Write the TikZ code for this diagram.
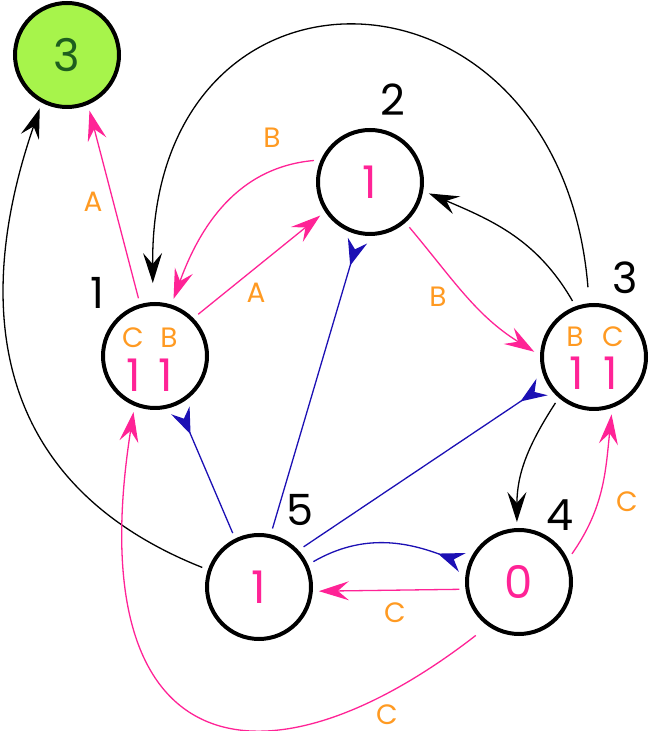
\documentclass[tikz,border=0pt]{standalone}
\usepackage{fontspec}
\setmainfont{Poppins}
\usetikzlibrary{arrows.meta}
\definecolor{pk}{HTML}{FF2396}
\definecolor{orng}{HTML}{FF9A22}
\definecolor{bl}{HTML}{1C10B4}
\definecolor{gfill}{HTML}{A7F44B}
\definecolor{gtext}{HTML}{1E5E1E}
\begin{document}
\begin{tikzpicture}[x=1pt,y=1pt,
  vtx/.style={circle,draw=black,line width=4pt,minimum size=104pt,inner sep=0pt,outer sep=8pt,font=\fontsize{45}{45}\selectfont,text=pk},
  inner/.style={font=\fontsize{45}{45}\selectfont,text=pk,inner sep=0pt},
  small/.style={font=\fontsize{28}{28}\selectfont,text=orng,inner sep=0pt},
  num/.style={font=\fontsize{43}{43}\selectfont,text=black,inner sep=0pt},
  conn/.style={line width=1.3pt},
  tipA/.style={-{Stealth[length=30pt,width=19pt,inset=11pt]}},
  tipB/.style={-{Stealth[reversed,length=26pt,width=20pt,inset=9pt]}},
  blk/.style={conn,draw=black,tipA},
  pnk/.style={conn,draw=pk,tipA},
  blu/.style={conn,draw=bl,tipB}]
\useasboundingbox (0,0) rectangle (650,731);
% nodes
\node[vtx,fill=gfill,text=gtext] (G) at (67,676) {3};
\node[vtx] (N1) at (155,375) {};
\node[vtx] (N2) at (370,549) {1};
\node[vtx] (N3) at (594,374) {};
\node[vtx] (N4) at (519,149) {0};
\node[vtx] (N5) at (259,144) {1};
% contents of 1 and 3
\node[small] (n1c) at (133,393) {C};
\node[small] (n1b) at (169,393) {B};
\node[inner] (n1x) at (134,356) {1};
\node[inner] (n1y) at (166,356) {1};
\node[small] (n3b) at (575,394) {B};
\node[small] (n3c) at (613,394) {C};
\node[inner] (n3x) at (577,358) {1};
\node[inner] (n3y) at (611,358) {1};
% numbers
\node[num] (l1) at (97,438) {1};
\node[num] (l2) at (393,631) {2};
\node[num] (l3) at (625,453) {3};
\node[num] (l4) at (560,216) {4};
\node[num] (l5) at (300,221) {5};
% edges
\draw[blk] (N5.161) .. controls (-15,250) and (-25,435) .. (G.243);
\draw[pnk] (N1.106) -- (G.292);
\draw[blk,shorten <=10pt,shorten >=13pt] (N3.95) .. controls (560,786) and (150,796) .. (N1.92);
\draw[pnk] (N2.159) to[out=185,in=70] (N1.72);
\draw[pnk] (N1.44) -- (N2.214);
\draw[blk] (N3.111) to[out=120,in=-23] (N2.349);
\draw[pnk] (N2.311) to[out=-50,in=148] (N3.175);
\draw[blu] (N5.77) -- (N2.258);
\draw[blu] (N5.116) -- (N1.295);
\draw[blu] (N5.42) -- (N3.210);
\draw[blu] (N5.25) to[out=30,in=160] (N4.161);
\draw[blk] (N3.230) to[out=237,in=90] (N4.92);
\draw[pnk] (N4.28) to[out=55,in=-96] (N3.287);
\draw[pnk] (N4.187) -- (N5.356);
\draw[pnk,shorten <=9pt] (N4.233) .. controls (265,-68) and (78,-36) .. (N1.249);
% edge labels
\node[small] (eA1) at (93,529) {A};
\node[small] (eB1) at (272,593) {B};
\node[small] (eA2) at (256,438) {A};
\node[small] (eB2) at (438,434) {B};
\node[small] (eC1) at (627,229) {C};
\node[small] (eC2) at (395,118) {C};
\node[small] (eC3) at (387,16) {C};
\end{tikzpicture}
\end{document}
